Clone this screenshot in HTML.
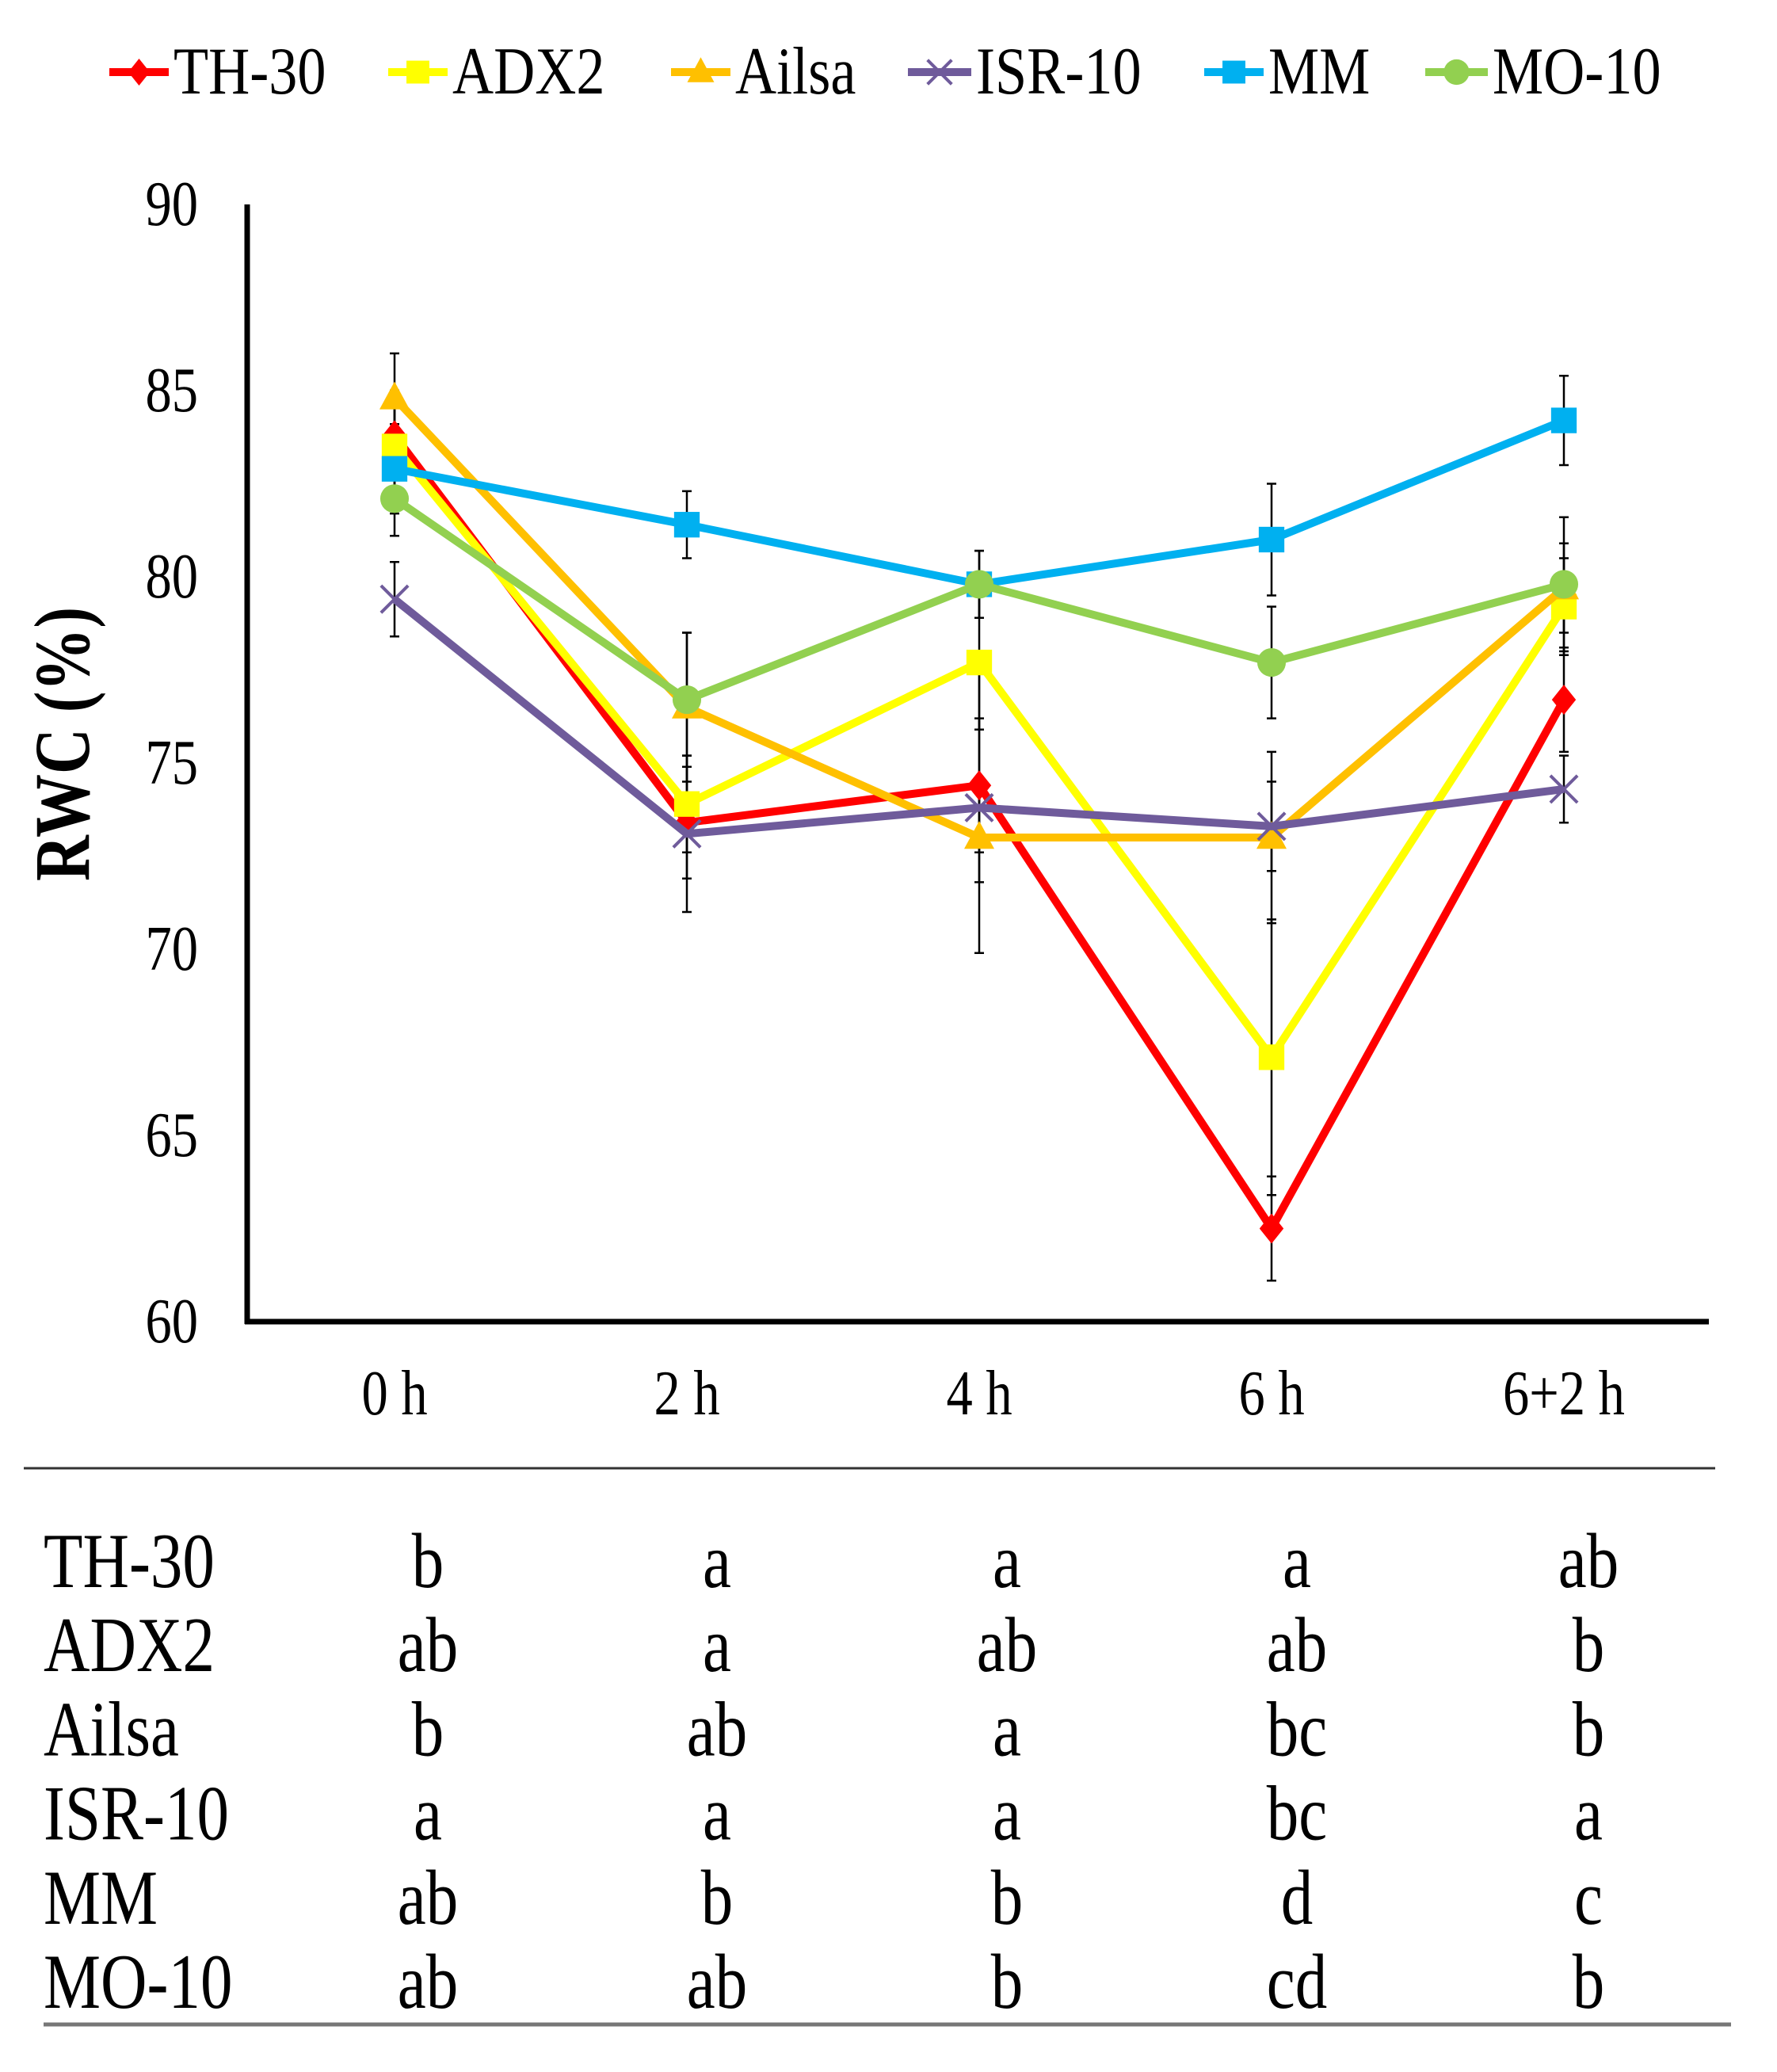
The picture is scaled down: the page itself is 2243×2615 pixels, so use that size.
<!DOCTYPE html>
<html><head><meta charset="utf-8"><style>
html,body{margin:0;padding:0;background:#fff;}
svg{display:block;}
text{font-family:"Liberation Serif",serif;fill:#000;}
</style></head><body>
<svg id="chart" width="2243" height="2615" viewBox="0 0 2243 2615">
<g id="legend"></g>
<g id="axes"></g>
<g id="series"></g>
<g id="table"></g>
</svg>
<script>
const categories = ["0 h","2 h","4 h","6 h","6+2 h"];
const seriesNames = ["TH-30","ADX2","Ailsa","ISR-10","MM","MO-10"];
const th30 = [83.8,73.4,74.4,62.5,76.7];
const adx2 = [83.5,73.9,77.7,67.1,79.2];
const ailsa = [84.8,76.5,73.0,73.0,79.7];
const isr10 = [79.4,73.1,73.8,73.3,74.3];
const mm = [82.9,81.4,79.8,81.0,84.2];
const mo10 = [82.1,76.7,79.8,77.7,79.8];
const th30Err = [1.2,1.5,1.8,1.4,1.4];
const adx2Err = [1.2,1.3,1.8,3.7,1.3];
const ailsaErr = [1.2,2.0,1.2,2.3,1.2];
const isr10Err = [1.0,2.1,3.9,1.2,0.9];
const mmErr = [1.2,0.9,0.9,1.5,1.2];
const mo10Err = [1.0,1.8,0.9,1.5,1.8];
const yTicks = [60,65,70,75,80,85,90];
const letters = [["b","a","a","a","ab"],["ab","a","ab","ab","b"],["b","ab","a","bc","b"],["a","a","a","bc","a"],["ab","b","b","d","c"],["ab","ab","b","cd","b"]];

const NS="http://www.w3.org/2000/svg";
function mk(tag,attrs,parent){const e=document.createElementNS(NS,tag);for(const k in attrs)e.setAttribute(k,attrs[k]);parent.appendChild(e);return e;}
const X0=312,Y60=1668,Y90=258,XEND=2157;
const catX=[498,867,1235,1603,1974];
function xPos(i){return catX[0]+i*(catX[4]-catX[0])/(categories.length-1);}
function yPos(v){return Y60-(v-60)*(Y60-Y90)/30;}
const colors=["#ff0000","#ffff00","#ffc000","#6f5b9b","#00b0f0","#92d050"];
const shapes=["diamond","square","triangle","x","square","circle"];
const allVals=[th30,adx2,ailsa,isr10,mm,mo10];
const allErr=[th30Err,adx2Err,ailsaErr,isr10Err,mmErr,mo10Err];

function marker(g,shape,x,y,c,s){
  let m;
  if(shape==="diamond") m=mk("polygon",{points:`${x},${y-s} ${x+s*0.8},${y} ${x},${y+s} ${x-s*0.8},${y}`,fill:c},g);
  else if(shape==="square") m=mk("rect",{x:x-s*0.85,y:y-s*0.85,width:s*1.7,height:s*1.7,fill:c},g);
  else if(shape==="triangle") m=mk("polygon",{points:`${x},${y-s*1.1} ${x+s},${y+s*0.75} ${x-s},${y+s*0.75}`,fill:c},g);
  else if(shape==="circle") m=mk("circle",{cx:x,cy:y,r:s*0.95,fill:c},g);
  else { m=mk("path",{d:`M${x-s*0.9},${y-s*0.9}L${x+s*0.9},${y+s*0.9}M${x+s*0.9},${y-s*0.9}L${x-s*0.9},${y+s*0.9}`,stroke:c,"stroke-width":4,fill:"none"},g); }
  return m;
}

const ax=document.getElementById("axes");
let e=mk("line",{x1:X0,y1:Y90,x2:X0,y2:Y60+3,stroke:"#000","stroke-width":7},ax);


e=mk("line",{x1:X0-3,y1:Y60,x2:XEND,y2:Y60,stroke:"#000","stroke-width":7},ax);


yTicks.forEach(t=>{
  const tx=mk("text",{transform:`translate(250,${yPos(t)+26}) scale(0.95,1.15)`,"text-anchor":"end","font-size":70},ax);
  tx.textContent=t;
  
  
});
categories.forEach((c,i)=>{
  const tx=mk("text",{transform:`translate(${xPos(i)},1785) scale(0.95,1.15)`,"text-anchor":"middle","font-size":70},ax);
  tx.textContent=c;
  
  
});
e=mk("text",{transform:"translate(112,939) rotate(-90) scale(1,1.25)","text-anchor":"middle","font-size":80,"font-weight":"bold"},ax);
e.textContent="RWC (%)";



const sg=document.getElementById("series");
allVals.forEach((vals,si)=>{
  vals.forEach((v,i)=>{
    const x=xPos(i),yt=yPos(v+allErr[si][i]),yb=yPos(v-allErr[si][i]);
    const eb=mk("path",{d:`M${x},${yt}L${x},${yb}M${x-6},${yt}L${x+6},${yt}M${x-6},${yb}L${x+6},${yb}`,stroke:"#000","stroke-width":2.5,fill:"none"},sg);
    
    
  });
});
allVals.forEach((vals,si)=>{
  const g=mk("g",{},sg);
  
  
  const pts=vals.map((v,i)=>xPos(i)+","+yPos(v)).join(" ");
  const pl=mk("polyline",{points:pts,fill:"none",stroke:colors[si],"stroke-width":10,"stroke-linejoin":"round"},g);
  
  
  vals.forEach((v,i)=>{
    const m=marker(g,shapes[si],xPos(i),yPos(v),colors[si],19);
    
    
  });
});

const lg=document.getElementById("legend");
const legLine=[[138,213],[490,565],[847,922],[1146,1226],[1520,1595],[1799,1878]];
seriesNames.forEach((n,i)=>{
  const g=mk("g",{},lg);
  
  
  mk("line",{x1:legLine[i][0],y1:91,x2:legLine[i][1],y2:91,stroke:colors[i],"stroke-width":10},g);
  marker(g,shapes[i],(legLine[i][0]+legLine[i][1])/2,91,colors[i],17);
  const t=mk("text",{transform:`translate(${legLine[i][1]+6},118) scale(0.95,1.12)`,"font-size":76},g);
  t.textContent=n;
});

const tb=document.getElementById("table");
e=mk("line",{x1:30,y1:1853,x2:2165,y2:1853,stroke:"#333","stroke-width":3},tb);


e=mk("line",{x1:55,y1:2555,x2:2185,y2:2555,stroke:"#777","stroke-width":5},tb);


const colX=[540,905,1271,1637,2005];
seriesNames.forEach((n,r)=>{
  const y=2003+r*106.2;
  const t=mk("text",{transform:`translate(55,${y}) scale(0.9,1.1)`,"font-size":90},tb);
  t.textContent=n;
  
  
  letters[r].forEach((l,c)=>{
    const tt=mk("text",{transform:`translate(${colX[c]},${y}) scale(0.9,1.1)`,"font-size":90,"text-anchor":"middle"},tb);
    tt.textContent=l;
    
    
  });
});
</script>
</body></html>
